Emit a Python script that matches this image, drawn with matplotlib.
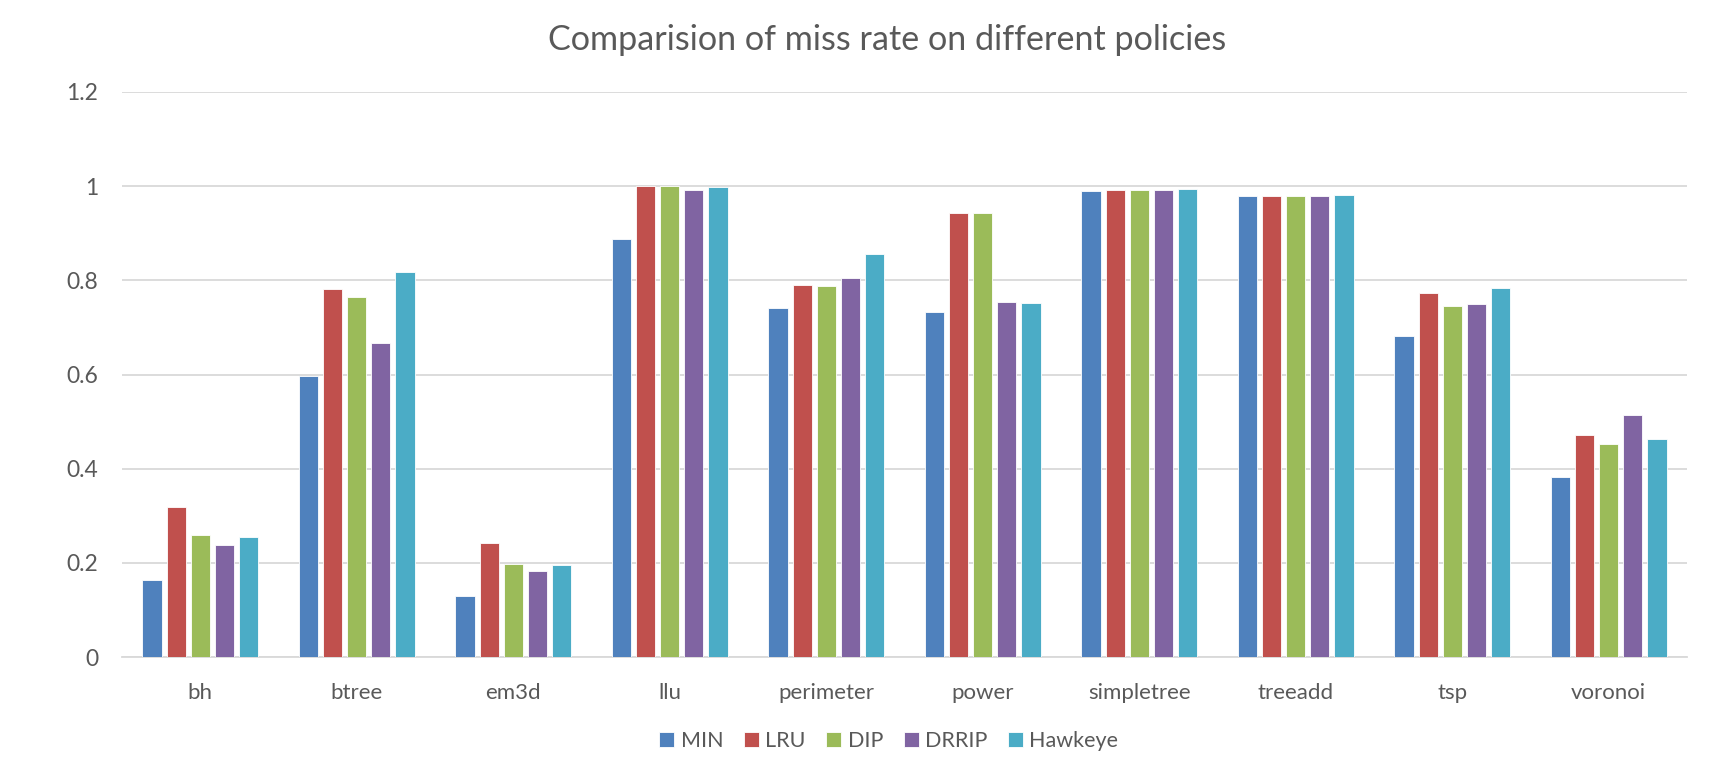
import numpy as np
import matplotlib.pyplot as plt

# miss rate per benchmark for each replacement policy
benchmarks = ['bh', 'btree', 'em3d', 'llu', 'perimeter', 'power',
              'simpletree', 'treeadd', 'tsp', 'voronoi']
policies = ['MIN', 'LRU', 'DIP', 'DRRIP', 'Hawkeye']

min_rate = [0.164, 0.597, 0.129, 0.887, 0.741, 0.733, 0.990, 0.979, 0.682, 0.382]
lru_rate = [0.318, 0.781, 0.243, 1.000, 0.791, 0.943, 0.991, 0.980, 0.774, 0.471]
dip_rate = [0.259, 0.764, 0.197, 1.000, 0.787, 0.944, 0.991, 0.980, 0.745, 0.452]
drrip_rate = [0.237, 0.668, 0.183, 0.992, 0.804, 0.754, 0.991, 0.980, 0.749, 0.514]
hawkeye_rate = [0.254, 0.817, 0.196, 0.999, 0.856, 0.751, 0.993, 0.981, 0.784, 0.463]

series = [min_rate, lru_rate, dip_rate, drrip_rate, hawkeye_rate]
colors = ['#4F81BD', '#C0504D', '#9BBB59', '#8064A2', '#4BACC6']

text_col = '#595959'
grid_col = '#D9D9D9'
plt.rcParams['font.family'] = ['Lato', 'DejaVu Sans']

fig = plt.figure(figsize=(17.16, 7.57), dpi=100)
ax = fig.add_axes([0.0711, 0.132, 0.912, 0.7465])

x = np.arange(len(benchmarks))
slot = 0.154
for i, (vals, c) in enumerate(zip(series, colors)):
    ax.bar(x + (i - 2) * slot, vals, width=slot * 0.8, color=c,
           edgecolor='white', linewidth=0.6, label=policies[i], zorder=3)

ax.set_xlim(-0.5, len(benchmarks) - 0.5)
ax.set_ylim(0, 1.2)
ax.set_yticks(np.arange(0, 1.21, 0.2))
ax.set_yticklabels(['0', '0.2', '0.4', '0.6', '0.8', '1', '1.2'])
ax.set_xticks(x)
ax.set_xticklabels(benchmarks)

ax.grid(axis='y', color=grid_col, linewidth=1.3, zorder=0)
for s in ['top', 'right', 'left']:
    ax.spines[s].set_visible(False)
ax.spines['bottom'].set_color(grid_col)
ax.spines['bottom'].set_linewidth(1.3)
ax.tick_params(axis='both', length=0, labelcolor=text_col)
ax.tick_params(axis='y', labelsize=16.5, pad=17)
ax.tick_params(axis='x', labelsize=16, pad=19)

fig.suptitle('Comparision of miss rate on different policies', x=0.517, y=0.968,
             fontsize=24.6, color=text_col)

leg = fig.legend(loc='lower center', bbox_to_anchor=(0.518, -0.018), ncol=5,
                 frameon=False, fontsize=15.5, handlelength=0.7, handleheight=0.7,
                 handletextpad=0.3, columnspacing=0.95)
for t in leg.get_texts():
    t.set_color(text_col)

fig.savefig('out.png', dpi=100, facecolor='white')
